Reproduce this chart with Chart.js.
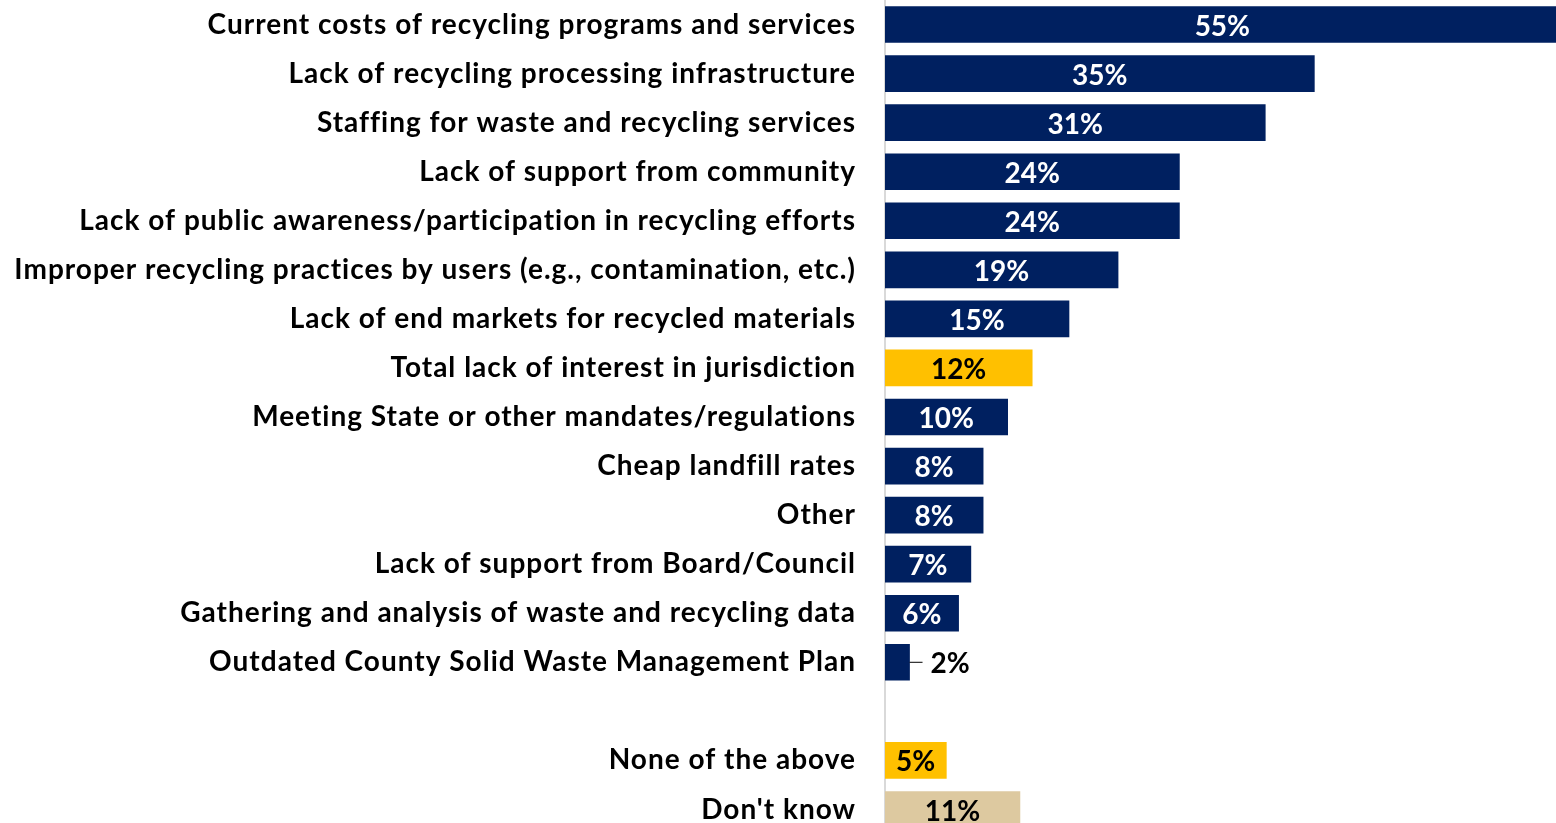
<!DOCTYPE html>
<html>
  <head>
    <script src="https://cdn.jsdelivr.net/npm/chart.js"></script>
    <style>
      body {
        margin: 0;
        padding: 0;
        background: white;
        overflow: hidden;
      }
      canvas {
        display: block;
      }
    </style>
  </head>
  <body>
    <canvas id="myChart" width="1556" height="834"></canvas>

    <script>
      // categories top to bottom, '' is the spacer row before the last two
      const categories = [
        'Current costs of recycling programs and services',
        'Lack of recycling processing infrastructure',
        'Staffing for waste and recycling services',
        'Lack of support from community',
        'Lack of public awareness/participation in recycling efforts',
        'Improper recycling practices by users (e.g., contamination, etc.)',
        'Lack of end markets for recycled materials',
        'Total lack of interest in jurisdiction',
        'Meeting State or other mandates/regulations',
        'Cheap landfill rates',
        'Other',
        'Lack of support from Board/Council',
        'Gathering and analysis of waste and recycling data',
        'Outdated County Solid Waste Management Plan',
        '',
        'None of the above',
        "Don't know"
      ];
      const percents = [55, 35, 31, 24, 24, 19, 15, 12, 10, 8, 8, 7, 6, 2, null, 5, 11];
      const barColors = [
        '#002060', '#002060', '#002060', '#002060', '#002060', '#002060', '#002060',
        '#FFC000',
        '#002060', '#002060', '#002060', '#002060', '#002060', '#002060',
        '#002060',
        '#FFC000', '#DDC9A0'
      ];
      const labelColors = barColors.map(c => c === '#002060' ? '#ffffff' : '#000000');

      const FONT = 'Lato, sans-serif';

      // the category labels in the original are set a little loose
      const loosenText = {
        id: 'loosenText',
        beforeDraw(chart) {
          chart.ctx.letterSpacing = '1px';
        }
      };

      // value labels inside the bars (outside, with a short leader, when the bar is too narrow)
      const valueLabels = {
        id: 'valueLabels',
        afterDatasetsDraw(chart) {
          const ctx = chart.ctx;
          const meta = chart.getDatasetMeta(0);
          ctx.save();
          ctx.letterSpacing = '0px';
          ctx.font = 'bold 28px ' + FONT;
          ctx.textBaseline = 'middle';
          meta.data.forEach((bar, i) => {
            const v = percents[i];
            if (v === null) return;
            const txt = v + '%';
            const w = bar.x - bar.base;
            const tw = ctx.measureText(txt).width;
            const y = bar.y + 2;
            if (tw + 8 > w) {
              ctx.strokeStyle = '#000000';
              ctx.lineWidth = 1;
              ctx.beginPath();
              ctx.moveTo(bar.x, bar.y);
              ctx.lineTo(bar.x + 13, bar.y);
              ctx.stroke();
              ctx.fillStyle = '#000000';
              ctx.textAlign = 'left';
              ctx.fillText(txt, bar.x + 21, y);
            } else {
              ctx.fillStyle = labelColors[i];
              ctx.textAlign = 'center';
              ctx.fillText(txt, (bar.x + bar.base) / 2, y);
            }
          });
          ctx.restore();
        }
      };

      const ctx = document.getElementById('myChart').getContext('2d');
      new Chart(ctx, {
        type: 'bar',
        data: {
          labels: categories,
          datasets: [{
            data: percents,
            backgroundColor: barColors,
            borderWidth: 0,
            barThickness: 36
          }]
        },
        options: {
          indexAxis: 'y',
          responsive: false,
          animation: false,
          layout: { padding: 0 },
          plugins: {
            legend: { display: false },
            tooltip: { enabled: false }
          },
          scales: {
            x: {
              display: false,
              min: 0,
              max: 54.7
            },
            y: {
              grid: { display: false },
              border: { display: true, color: '#d9d9d9', width: 2 },
              ticks: {
                color: '#000000',
                padding: 21,
                font: { family: FONT, size: 28, weight: 'bold' }
              },
              afterFit(scale) {
                scale.width = 885;
                scale.paddingTop = 0;
                scale.paddingBottom = 0;
              }
            }
          }
        },
        plugins: [loosenText, valueLabels]
      });
    </script>
  </body>
</html>
